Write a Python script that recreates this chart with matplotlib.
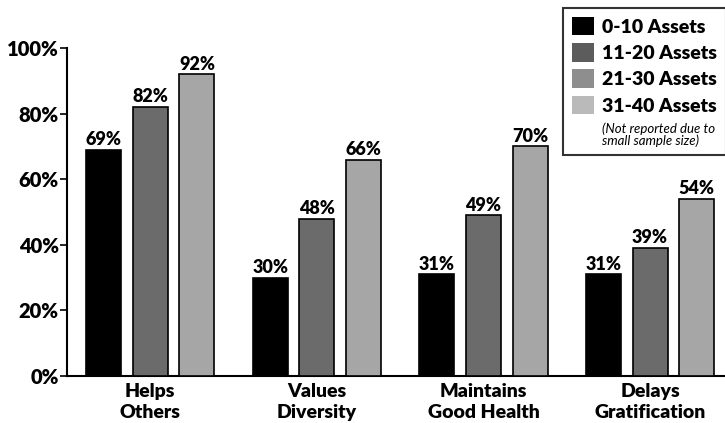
import matplotlib
matplotlib.use("Agg")
import matplotlib.pyplot as plt
from matplotlib.patches import Patch
import numpy as np

# categories and values (percent)
categories = ["Helps\nOthers", "Values\nDiversity", "Maintains\nGood Health", "Delays\nGratification"]
assets_0_10 = [69, 30, 31, 31]
assets_11_20 = [82, 48, 49, 39]
assets_21_30 = [92, 66, 70, 54]
series = [assets_0_10, assets_11_20, assets_21_30]

legend_labels = ["0-10 Assets", "11-20 Assets", "21-30 Assets", "31-40 Assets"]
legend_note = "(Not reported due to\nsmall sample size)"
yticks = [0, 20, 40, 60, 80, 100]

bar_colors = ["#000000", "#6b6b6b", "#a6a6a6"]
legend_colors = ["#000000", "#5c5c5c", "#8e8e8e", "#bababa"]

plt.rcParams['font.family'] = ['Lato', 'DejaVu Sans']
plt.rcParams['font.weight'] = 'bold'

W, H = 725, 423
fig = plt.figure(figsize=(W / 100, H / 100), dpi=100)
ax = fig.add_axes([67 / W, 1 - 376 / H, (W - 67) / W, (376 - 48) / H])

x = np.arange(len(categories))
width = 0.21
offsets = [-0.28, 0, 0.28]

for vals, off, col in zip(series, offsets, bar_colors):
    bars = ax.bar(x + off, vals, width, color=col, edgecolor="black", linewidth=1.2, zorder=3)
    for b, v in zip(bars, vals):
        ax.text(b.get_x() + b.get_width() / 2, v + 0.5, f"{v}%", ha="center", va="bottom",
                fontsize=13, fontweight="heavy", zorder=4)

ax.set_xlim(-0.5, 3.45)
ax.set_ylim(0, 100)
ax.set_yticks(yticks)
ax.set_yticklabels([f"{t}%" for t in yticks], fontsize=14.5, fontweight="heavy")
ax.set_xticks(x)
ax.set_xticklabels(categories, fontsize=14, fontweight="heavy", linespacing=1.3)
ax.tick_params(axis="x", length=0, pad=5)
ax.tick_params(axis="y", length=5, width=1.2, pad=1, direction="out")

ax.spines["top"].set_visible(False)
ax.spines["right"].set_visible(False)
ax.spines["left"].set_linewidth(1.5)
ax.spines["bottom"].set_linewidth(1.5)
ax.spines["left"].set_bounds(0, 100)

handles = [Patch(facecolor=c, edgecolor="none") for c in legend_colors]
handles.append(Patch(facecolor="none", edgecolor="none"))
leg = fig.legend(handles, legend_labels + [legend_note], loc="upper right",
                 bbox_to_anchor=(726 / W, 1 - 8 / H), borderaxespad=0, frameon=True,
                 fancybox=False, edgecolor="black", fontsize=14, handlelength=1.1,
                 handleheight=1.1, handletextpad=0.45, labelspacing=0.38, borderpad=0.45)
leg.get_frame().set_linewidth(1.5)
for t in leg.get_texts():
    t.set_fontweight("heavy")
note = leg.get_texts()[-1]
note.set_fontstyle("italic")
note.set_fontweight("normal")
note.set_fontsize(9.5)
note.set_linespacing(0.95)

fig.savefig("out.png", dpi=100)
